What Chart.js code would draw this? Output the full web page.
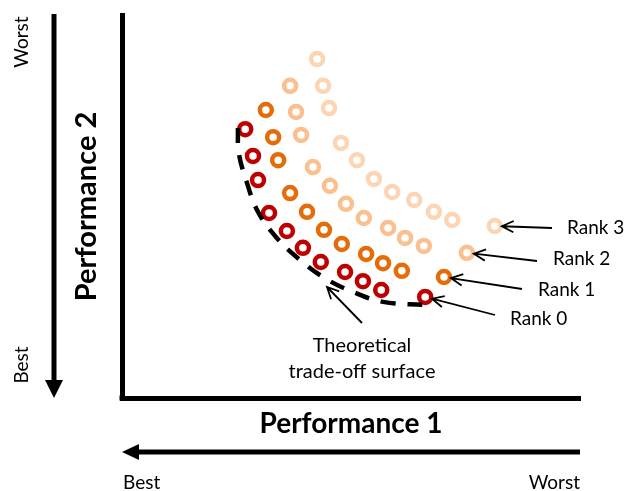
<!DOCTYPE html>
<html lang="en">
<head>
    <meta charset="UTF-8">
    <title>Pareto ranks</title>
    <style>
        body { margin: 0; background: #fff; }
        #wrap { width: 624px; height: 491px; }
    </style>
    <script src="https://cdn.jsdelivr.net/npm/chart.js"></script>
</head>
<body>
    <div id="wrap"><canvas id="chart"></canvas></div>

    <script>
        // Performance 1 (x) / Performance 2 (y), 0 = best, 100 = worst
        const rank0X = [26.9, 28.6, 29.7, 32.1, 36.0, 39.5, 43.4, 48.7, 52.6, 56.6, 66.2];
        const rank0Y = [70.2, 63.2, 56.9, 48.3, 43.6, 39.2, 35.5, 32.9, 30.5, 28.2, 26.4];
        const rank1X = [31.4, 33.0, 34.1, 36.7, 40.4, 44.1, 48.0, 53.3, 57.0, 61.1, 70.3];
        const rank1Y = [75.2, 68.1, 62.1, 53.5, 48.6, 43.9, 40.2, 37.6, 35.2, 33.2, 31.6];
        const rank2X = [36.7, 38.0, 39.1, 41.7, 45.4, 48.9, 52.8, 58.1, 61.8, 65.9, 75.3];
        const rank2Y = [81.5, 74.7, 68.7, 60.3, 55.4, 50.7, 47.0, 44.4, 41.8, 39.7, 37.9];
        const rank3X = [42.6, 43.9, 45.2, 47.8, 51.3, 55.0, 59.0, 63.8, 68.1, 72.1, 81.4];
        const rank3Y = [88.5, 81.5, 75.7, 66.6, 62.1, 57.2, 53.8, 51.7, 48.6, 46.5, 44.9];
        // theoretical trade-off surface
        const frontX = [25.3, 25.5, 27.3, 29.7, 33.8, 38.9, 44.3, 50.4, 57.0, 66.2];
        const frontY = [70.5, 64.0, 56.1, 48.6, 41.8, 36.0, 31.3, 27.7, 25.1, 24.3];

        const rankNames = ['Rank 0', 'Rank 1', 'Rank 2', 'Rank 3'];
        const rankColors = ['#C00000', '#E46C0A', '#FAC090', '#FCD5B5'];

        function pts(xs, ys) {
            return xs.map((x, i) => ({ x: x, y: ys[i] }));
        }

        const FONT = 'Lato, "Open Sans", sans-serif';

        function arrow(ctx, x1, y1, x2, y2, head, width) {
            // open arrow head (annotation style)
            const a = Math.atan2(y2 - y1, x2 - x1);
            ctx.save();
            ctx.strokeStyle = '#000';
            ctx.lineWidth = width;
            ctx.beginPath();
            ctx.moveTo(x1, y1);
            ctx.lineTo(x2, y2);
            ctx.moveTo(x2 - head * Math.cos(a - 0.45), y2 - head * Math.sin(a - 0.45));
            ctx.lineTo(x2, y2);
            ctx.lineTo(x2 - head * Math.cos(a + 0.45), y2 - head * Math.sin(a + 0.45));
            ctx.stroke();
            ctx.restore();
        }

        function blockArrow(ctx, x1, y1, x2, y2, len, half) {
            // thick axis arrow with filled head
            const a = Math.atan2(y2 - y1, x2 - x1);
            const bx = x2 - len * Math.cos(a), by = y2 - len * Math.sin(a);
            ctx.save();
            ctx.strokeStyle = '#000';
            ctx.fillStyle = '#000';
            ctx.lineWidth = 5;
            ctx.beginPath();
            ctx.moveTo(x1, y1);
            ctx.lineTo(bx, by);
            ctx.stroke();
            ctx.beginPath();
            ctx.moveTo(x2, y2);
            ctx.lineTo(bx + half * Math.sin(a), by - half * Math.cos(a));
            ctx.lineTo(bx - half * Math.sin(a), by + half * Math.cos(a));
            ctx.closePath();
            ctx.fill();
            ctx.restore();
        }

        const decor = {
            id: 'decor',
            afterDraw(chart) {
                const ctx = chart.ctx;
                const area = chart.chartArea;

                // close the corner of the two axis lines
                ctx.fillStyle = '#000';
                ctx.fillRect(area.left - 2.5, area.bottom - 2.5, 5, 5);

                // direction arrows
                blockArrow(ctx, 54, 14, 54, 398, 18, 9);
                blockArrow(ctx, 580, 452, 122, 452, 17, 8);

                ctx.fillStyle = '#000';
                ctx.textBaseline = 'middle';
                ctx.font = '19px ' + FONT;
                ctx.textAlign = 'left';
                ctx.fillText('Best', 123, 483);
                ctx.textAlign = 'right';
                ctx.fillText('Worst', 580, 483);

                ctx.save();
                ctx.translate(22, 0);
                ctx.rotate(-Math.PI / 2);
                ctx.textAlign = 'center';
                ctx.fillText('Worst', -42, 0);
                ctx.fillText('Best', -365, 0);
                ctx.restore();

                // rank labels pointing at the last point of each rank
                const tails = [[495, 315], [522, 289], [537, 261], [552, 228]];
                const labels = [[510, 319], [538, 290], [553, 259], [567, 228]];
                ctx.font = '19px ' + FONT;
                ctx.textAlign = 'left';
                for (let i = 0; i < 4; i++) {
                    const meta = chart.getDatasetMeta(i + 1);
                    const p = meta.data[meta.data.length - 1];
                    const dx = tails[i][0] - p.x, dy = tails[i][1] - p.y;
                    const d = Math.sqrt(dx * dx + dy * dy);
                    arrow(ctx, tails[i][0], tails[i][1], p.x + dx / d * 7, p.y + dy / d * 7, 13, 1.8);
                    ctx.fillText(rankNames[i], labels[i][0], labels[i][1]);
                }

                // theoretical surface label
                arrow(ctx, 362, 323, 327, 287, 13, 1.8);
                ctx.textAlign = 'center';
                ctx.font = '20px ' + FONT;
                ctx.fillText('Theoretical', 362, 346);
                ctx.fillText('trade-off surface', 362, 372);
            }
        };

        const datasets = [{
            label: 'Theoretical trade-off surface',
            data: pts(frontX, frontY),
            showLine: true,
            borderColor: '#000',
            borderWidth: 4.5,
            borderDash: [15, 12],
            borderCapStyle: 'butt',
            tension: 0.4,
            pointRadius: 0,
            fill: false
        }];
        const rankX = [rank0X, rank1X, rank2X, rank3X];
        const rankY = [rank0Y, rank1Y, rank2Y, rank3Y];
        for (let i = 0; i < 4; i++) {
            datasets.push({
                label: rankNames[i],
                data: pts(rankX[i], rankY[i]),
                showLine: false,
                pointRadius: 6,
                pointBorderWidth: 4.5,
                pointBorderColor: rankColors[i],
                pointBackgroundColor: '#fff'
            });
        }

        new Chart(document.getElementById('chart'), {
            type: 'scatter',
            data: { datasets: datasets },
            plugins: [decor],
            options: {
                responsive: true,
                maintainAspectRatio: false,
                animation: false,
                layout: { padding: { top: 15, right: 44, bottom: 50.2, left: 69.6 } },
                plugins: {
                    legend: { display: false },
                    tooltip: { enabled: false }
                },
                scales: {
                    x: {
                        min: 0,
                        max: 100,
                        grid: { display: false, drawTicks: false },
                        ticks: { display: false },
                        border: { display: true, color: '#000', width: 5 },
                        title: {
                            display: true,
                            text: 'Performance 1',
                            color: '#000',
                            font: { family: FONT, size: 28, weight: 'bold' },
                            padding: { top: 9.2, bottom: 0 }
                        }
                    },
                    y: {
                        min: 0,
                        max: 100,
                        grid: { display: false, drawTicks: false },
                        ticks: { display: false },
                        border: { display: true, color: '#000', width: 5 },
                        title: {
                            display: true,
                            text: 'Performance 2',
                            color: '#000',
                            font: { family: FONT, size: 29, weight: 'bold' },
                            padding: { top: 0, bottom: 17.6 }
                        }
                    }
                }
            }
        });
    </script>
</body>
</html>
